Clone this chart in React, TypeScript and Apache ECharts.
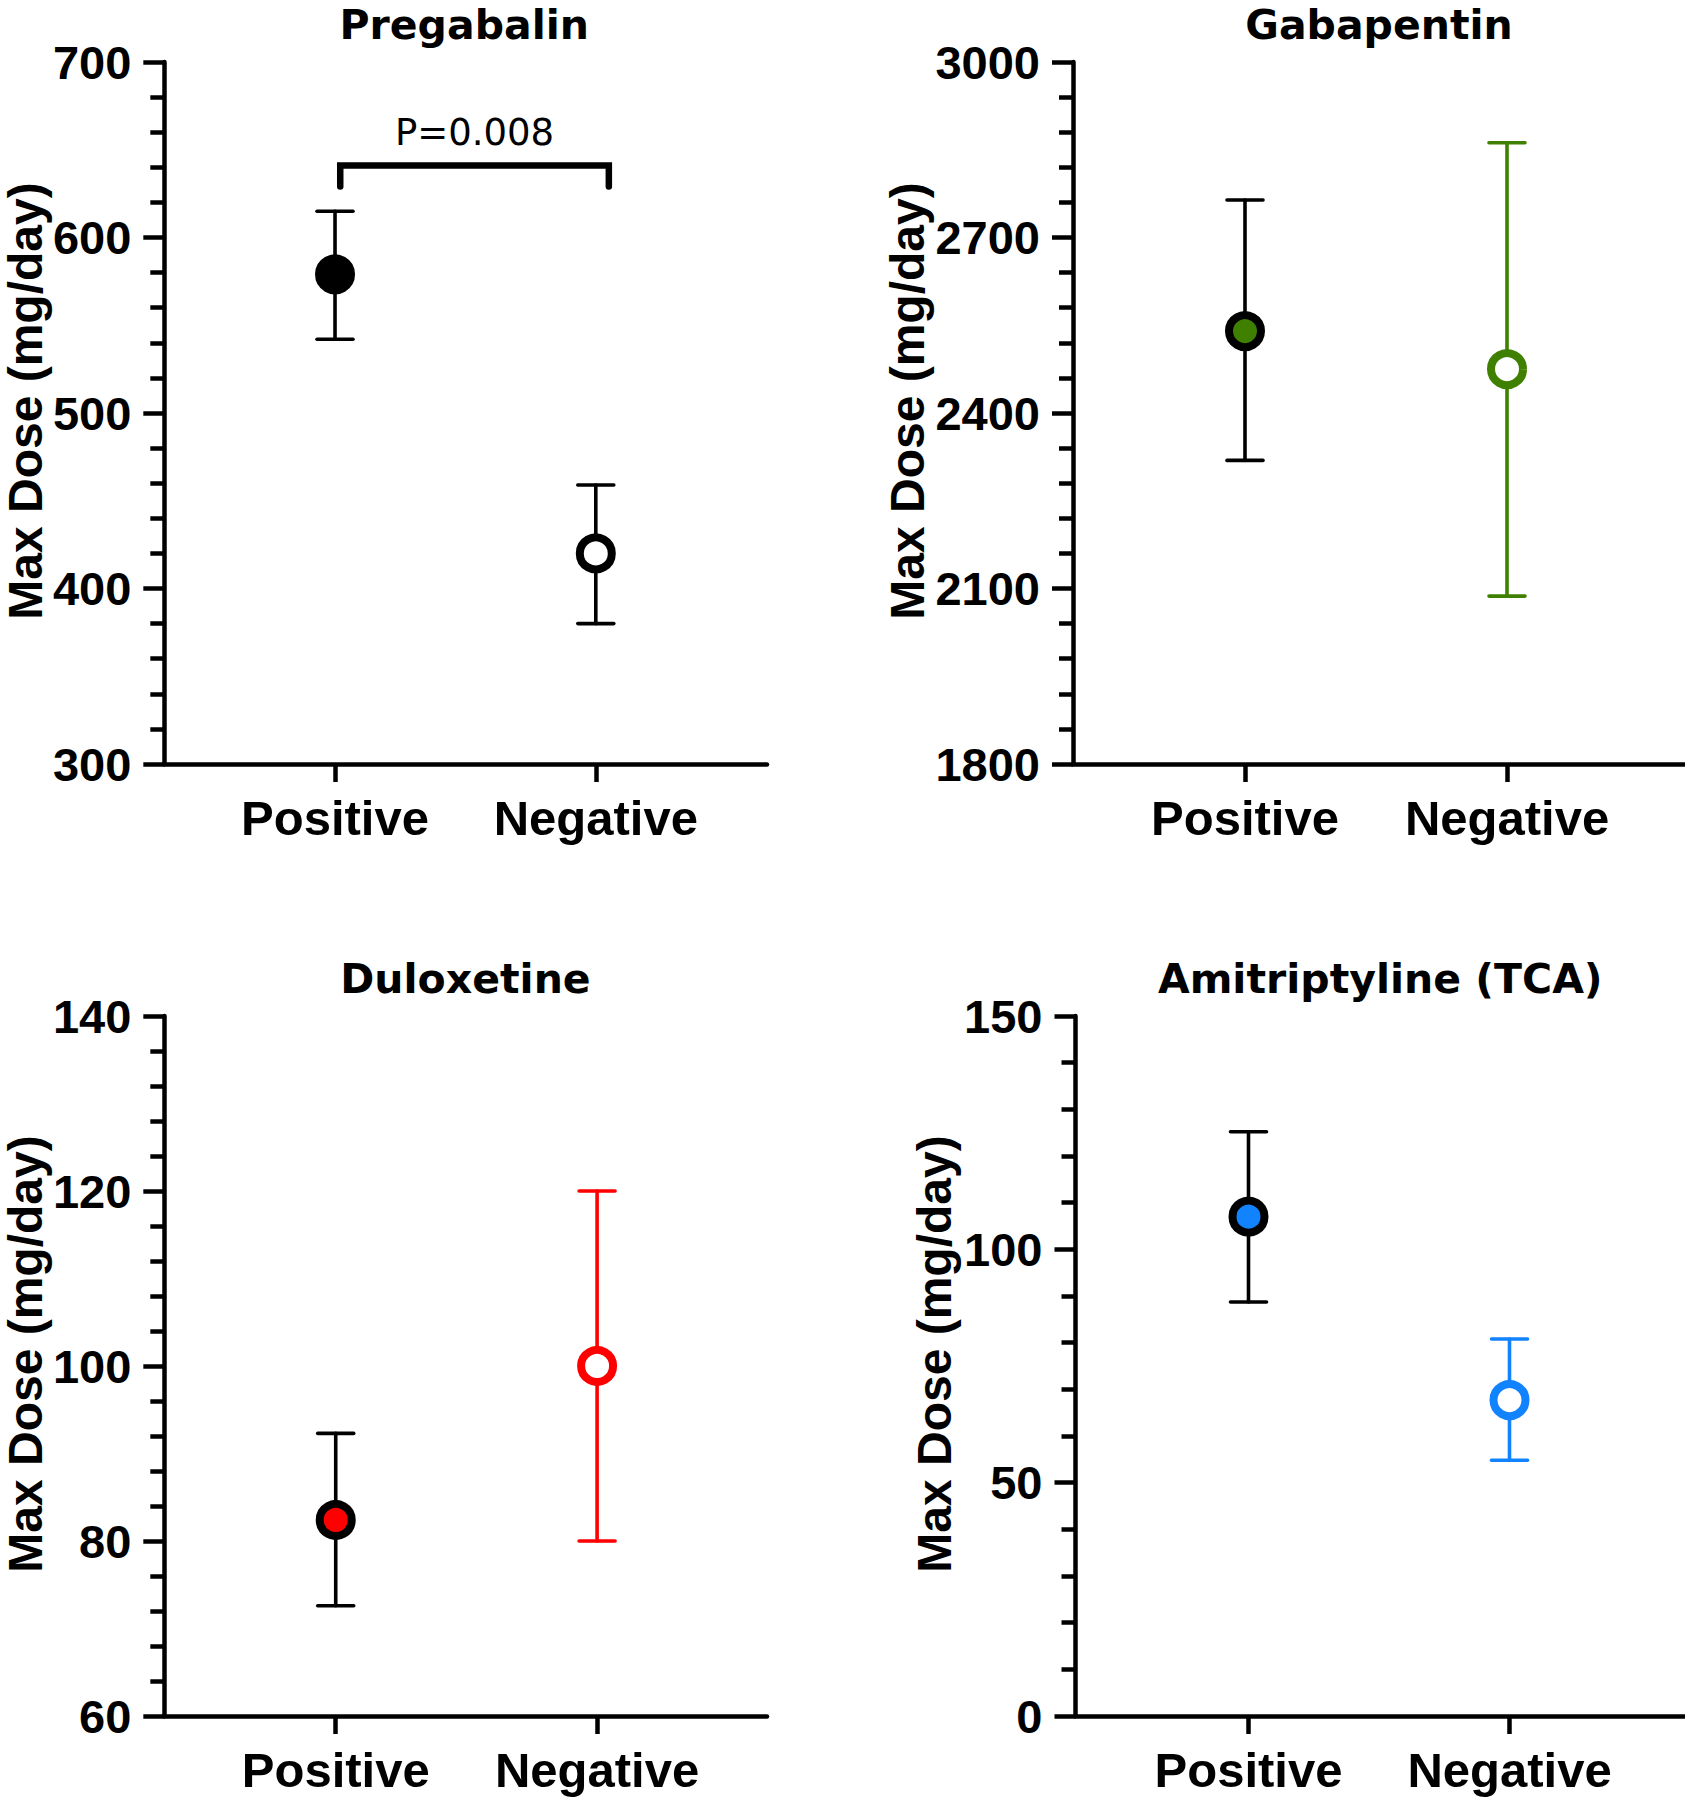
import React, { useEffect, useRef } from "react";
import * as echarts from "echarts";

// ---------- data ----------
const categories = ["Positive", "Negative"];
const categoryPositions = [1, 2];

const panelTitles = ["Pregabalin", "Gabapentin", "Duloxetine", "Amitriptyline (TCA)"];
const yAxisTitle = "Max Dose (mg/day)";

const pregabalinMean = [579, 420];
const pregabalinLower = [542, 380];
const pregabalinUpper = [615, 459];

const gabapentinMean = [2540, 2475];
const gabapentinLower = [2319, 2087];
const gabapentinUpper = [2764, 2862];

const duloxetineMean = [82.4, 100];
const duloxetineLower = [72.6, 80];
const duloxetineUpper = [92.3, 120];

const amitriptylineMean = [107, 67.7];
const amitriptylineLower = [88.7, 54.8];
const amitriptylineUpper = [125.2, 80.8];

const yMins = [300, 1800, 60, 0];
const yMaxs = [700, 3000, 140, 150];
const yIntervals = [100, 300, 20, 50];

const pValueText = "P=0.008";
const bracketXs = [1.02, 2.05];
const bracketLevel = 641;
const bracketDropTo = 629;
const pValueLevel = 660;

// ---------- styling ----------
const BLACK = "#000000";
const GREEN = "#3f8000";
const RED = "#ff0000";
const BLUE = "#1283ff";
const WHITE = "#ffffff";

// panel geometry (px): axis x, top, bottom, positive x, negative x, right end
const layouts = [
  { ax: 161.5, top: 62, bottom: 764, px: 333, nx: 595, right: 767, nameGap: 112 },
  { ax: 1073, top: 62, bottom: 764, px: 1245, nx: 1507, right: 1685, nameGap: 136 },
  { ax: 164, top: 1016, bottom: 1716, px: 335.5, nx: 597, right: 767, nameGap: 114 },
  { ax: 1075.5, top: 1016, bottom: 1716, px: 1248.5, nx: 1509.5, right: 1685, nameGap: 117 },
];

const panelStyles = [
  { posFill: BLACK, posBorder: BLACK, posBar: BLACK, negFill: WHITE, negBorder: BLACK, negBar: BLACK },
  { posFill: GREEN, posBorder: BLACK, posBar: BLACK, negFill: WHITE, negBorder: GREEN, negBar: GREEN },
  { posFill: RED, posBorder: BLACK, posBar: BLACK, negFill: WHITE, negBorder: RED, negBar: RED },
  { posFill: BLUE, posBorder: BLACK, posBar: BLACK, negFill: WHITE, negBorder: BLUE, negBar: BLUE },
];

const titleBaselines = [39.5, 993];

const FONT = "'Liberation Sans', Arial, Helvetica, sans-serif";
const TITLE_FONT = "'DejaVu Sans', sans-serif";

export default function App() {
  const ref = useRef<HTMLDivElement>(null);

  useEffect(() => {
    document.body.style.margin = "0";
    if (!ref.current) return;
    const chart = echarts.init(ref.current, undefined, { renderer: "svg" });

    const means = [pregabalinMean, gabapentinMean, duloxetineMean, amitriptylineMean];
    const lowers = [pregabalinLower, gabapentinLower, duloxetineLower, amitriptylineLower];
    const uppers = [pregabalinUpper, gabapentinUpper, duloxetineUpper, amitriptylineUpper];

    const grids: any[] = [];
    const xAxes: any[] = [];
    const yAxes: any[] = [];
    const series: any[] = [];
    const graphics: any[] = [];

    layouts.forEach((L, i) => {
      const unit = L.nx - L.px;
      const xmin = 1 - (L.px - L.ax) / unit;
      const xmax = 2 + (L.right - L.nx) / unit;
      grids.push({
        left: L.ax,
        top: L.top,
        width: L.right - L.ax,
        height: L.bottom - L.top,
        containLabel: false,
      });
      xAxes.push({
        type: "value",
        gridIndex: i,
        min: xmin,
        max: xmax,
        splitLine: { show: false },
        axisLine: { show: true, onZero: false, lineStyle: { color: BLACK, width: 4.5 } },
        axisTick: {
          show: true,
          customValues: categoryPositions,
          length: 18,
          lineStyle: { color: BLACK, width: 4.5 },
        },
        axisLabel: {
          show: true,
          customValues: categoryPositions,
          formatter: (v: number) => categories[Math.round(v) - 1] ?? "",
          color: BLACK,
          fontFamily: FONT,
          fontWeight: "bold",
          fontSize: 49,
          lineHeight: 49,
          margin: 29,
        },
      });
      yAxes.push({
        type: "value",
        gridIndex: i,
        min: yMins[i],
        max: yMaxs[i],
        interval: yIntervals[i],
        splitLine: { show: false },
        axisLine: { show: true, onZero: false, lineStyle: { color: BLACK, width: 4.5 } },
        axisTick: { show: true, length: 21, lineStyle: { color: BLACK, width: 4.5 } },
        minorTick: { show: true, splitNumber: 5, length: 14, lineStyle: { color: BLACK, width: 4.5 } },
        axisLabel: {
          color: BLACK,
          fontFamily: FONT,
          fontWeight: "bold",
          fontSize: 47,
          margin: 33,
          formatter: (v: number) => String(v),
        },
        name: yAxisTitle,
        nameLocation: "middle",
        nameGap: L.nameGap,
        nameTextStyle: {
          color: BLACK,
          fontFamily: FONT,
          fontWeight: "bold",
          fontSize: 48,
          lineHeight: 48,
          padding: [0, 0, 0, 24],
        },
      });

      const S = panelStyles[i];
      const barColors = [S.posBar, S.negBar];
      const m = means[i];
      const lo = lowers[i];
      const hi = uppers[i];

      series.push({
        type: "custom",
        xAxisIndex: i,
        yAxisIndex: i,
        z: 2,
        silent: true,
        data: categoryPositions.map((x, k) => [x, lo[k], hi[k], k]),
        renderItem: (_params: any, api: any) => {
          const x = api.value(0);
          const pLo = api.coord([x, api.value(1)]);
          const pHi = api.coord([x, api.value(2)]);
          const color = barColors[api.value(3)];
          const hw = 18;
          const st = { stroke: color, lineWidth: 3.6, lineCap: "round" };
          return {
            type: "group",
            children: [
              { type: "line", shape: { x1: pHi[0], y1: pHi[1], x2: pLo[0], y2: pLo[1] }, style: st },
              { type: "line", shape: { x1: pHi[0] - hw, y1: pHi[1], x2: pHi[0] + hw, y2: pHi[1] }, style: st },
              { type: "line", shape: { x1: pLo[0] - hw, y1: pLo[1], x2: pLo[0] + hw, y2: pLo[1] }, style: st },
            ],
          };
        },
      });

      series.push({
        type: "scatter",
        xAxisIndex: i,
        yAxisIndex: i,
        z: 3,
        silent: true,
        symbol: "circle",
        symbolSize: 32,
        data: categoryPositions.map((x, k) => ({
          value: [x, m[k]],
          itemStyle: {
            color: k === 0 ? S.posFill : S.negFill,
            borderColor: k === 0 ? S.posBorder : S.negBorder,
            borderWidth: 8,
            opacity: 1,
          },
        })),
      });

      const cx = (L.ax + L.right) / 2;
      const baseline = titleBaselines[i < 2 ? 0 : 1];
      graphics.push({
        type: "text",
        x: cx,
        y: baseline - 0.346 * 41,
        style: {
          text: panelTitles[i],
          fill: BLACK,
          fontFamily: TITLE_FONT,
          fontWeight: "bold",
          fontSize: 41,
          align: "center",
          verticalAlign: "middle",
          textAlign: "center",
          textVerticalAlign: "middle",
        },
      });
    });

    // significance bracket on Pregabalin panel
    series.push({
      type: "custom",
      xAxisIndex: 0,
      yAxisIndex: 0,
      z: 4,
      silent: true,
      data: [[bracketXs[0], bracketXs[1], bracketLevel, bracketDropTo, pValueLevel]],
      renderItem: (_params: any, api: any) => {
        const x1 = api.value(0);
        const x2 = api.value(1);
        const yl = api.value(2);
        const yd = api.value(3);
        const pA = api.coord([x1, yd]);
        const pB = api.coord([x1, yl]);
        const pC = api.coord([x2, yl]);
        const pD = api.coord([x2, yd]);
        const pT = api.coord([(x1 + x2) / 2, api.value(4)]);
        return {
          type: "group",
          children: [
            {
              type: "polyline",
              shape: { points: [pA, pB, pC, pD] },
              style: { stroke: BLACK, lineWidth: 6.5, fill: "none", lineCap: "round", lineJoin: "miter" },
            },
            {
              type: "text",
              x: pT[0],
              y: pT[1],
              style: {
                text: pValueText,
                fill: BLACK,
                fontFamily: "'DejaVu Sans', sans-serif",
                fontSize: 37,
                align: "center",
                verticalAlign: "middle",
              },
            },
          ],
        };
      },
    });

    chart.setOption({
      animation: false,
      backgroundColor: WHITE,
      grid: grids,
      xAxis: xAxes,
      yAxis: yAxes,
      series,
      graphic: { elements: graphics },
    });

    return () => {
      chart.dispose();
    };
  }, []);

  return <div ref={ref} style={{ width: 1685, height: 1800 }} />;
}
